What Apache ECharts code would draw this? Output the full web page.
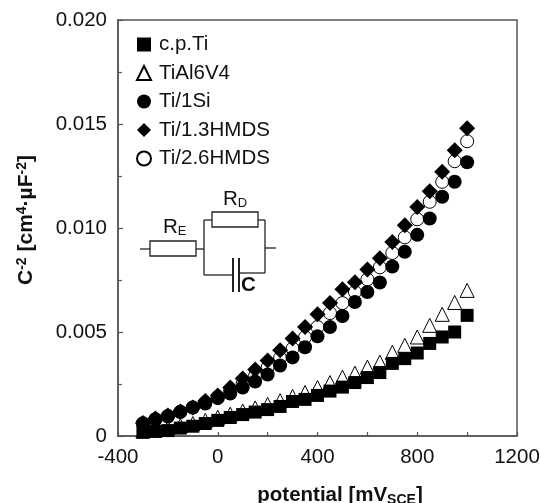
<!DOCTYPE html>
<html>
<head>
	<meta charset="utf-8">
	<title></title>
	<script src="https://cdn.jsdelivr.net/npm/echarts@6/dist/echarts.min.js"></script>
	<style>
		html,body{margin:0;padding:0;background:#fff;}
		#chart{width:541px;height:503px;}
	</style>
</head>
<body>
	<div id="chart"></div>
<script type="text/javascript">
	const potential=[-300,-250,-200,-150,-100,-50,0,50,100,150,200,250,300,350,400,450,500,550,600,650,700,750,800,850,900,950,1000];
	const cpTi=[.00018,.00022,.00026,.00038,.00047,.0006,.00075,.00089,.00103,.00115,.00127,.00142,.00166,.00176,.00195,.00216,.00235,.00257,.00281,.00305,.00349,.00372,.00399,.00445,.00476,.005,.0058];
	const tiAl=[.00024,.0003,.0004,.0005,.0006,.00075,.0009,.00105,.0012,.00135,.00152,.0017,.0019,.00209,.00233,.00257,.00283,.00302,.00331,.00355,.00402,.00436,.00476,.00532,.00585,.00642,.007];
	const ti1Si=[.0006,.00079,.00094,.00115,.00137,.00156,.00182,.00204,.00233,.00262,.00296,.00339,.00378,.00427,.00479,.00524,.00577,.00644,.00692,.00738,.00815,.00886,.00967,.01046,.0115,.01222,.01316];
	const ti13=[.00062,.00084,.00099,.00118,.00137,.00168,.00195,.00233,.00277,.0032,.00363,.00412,.00469,.00524,.00585,.00639,.00705,.00739,.00801,.00854,.00933,.01013,.01101,.01177,.0127,.01374,.0148];
	const ti26=[.00061,.00081,.00097,.00117,.00137,.00162,.00188,.0022,.00252,.0029,.0033,.00375,.0042,.00475,.00524,.00591,.00639,.00692,.00753,.00811,.0088,.00955,.01042,.01126,.01222,.01321,.01417];
	const legendNames=['c.p.Ti','TiAl6V4','Ti/1Si','Ti/1.3HMDS','Ti/2.6HMDS'];

	const font='"Liberation Sans", Arial, sans-serif';
	const frame='#555';

	function pairs(values){
		return potential.map((x,i)=>[x,values[i]]);
	}
	function filled(name,values,symbol,size){
		return {
			name:name,type:'scatter',symbol:symbol,symbolSize:size,
			data:pairs(values),
			itemStyle:{color:'#000',opacity:1}
		};
	}
	function hollow(name,values,symbol,size){
		return {
			name:name,type:'scatter',symbol:symbol,symbolSize:size,
			data:pairs(values),
			itemStyle:{color:'#fff',borderColor:'#000',borderWidth:1,opacity:1}
		};
	}
	function wire(x1,y1,x2,y2,w){
		return {type:'line',shape:{x1:x1,y1:y1,x2:x2,y2:y2},style:{stroke:'#222',lineWidth:w||1.3}};
	}
	function box(x,y,w,h){
		return {type:'rect',shape:{x:x,y:y,width:w,height:h},style:{fill:'#fff',stroke:'#222',lineWidth:1.3}};
	}
	function label(x,y,main,sub){
		return {type:'text',x:x,y:y,style:{
			text:'{m|'+main+'}{s|'+sub+'}',
			rich:{
				m:{fontFamily:font,fontSize:20.5,fill:'#111',color:'#111'},
				s:{fontFamily:font,fontSize:13,fill:'#111',color:'#111',padding:[9,0,0,0]}
			}
		}};
	}

	var myChart = echarts.init(document.getElementById('chart'),null,{renderer:'canvas'});
	var option = {
		animation:false,
		backgroundColor:'#fff',
		grid:{left:118,top:20,width:399,height:416,outerBoundsMode:'none',show:true,borderColor:frame,borderWidth:1.5,backgroundColor:'transparent'},
		legend:{
			orient:'vertical',left:131,top:29,
			itemWidth:14,itemHeight:14,itemGap:7.5,
			data:legendNames,
			textStyle:{fontFamily:font,fontSize:20.5,color:'#111',padding:[0,0,0,3]}
		},
		xAxis:{
			type:'value',min:-400,max:1200,interval:400,
			axisLine:{show:true,onZero:false,lineStyle:{color:frame,width:1.5}},
			axisTick:{show:true,inside:true,length:4,lineStyle:{color:frame,width:1.2}},
			minorTick:{show:true,splitNumber:2,length:4,lineStyle:{color:frame,width:1.2}},
			splitLine:{show:false},
			axisLabel:{
				fontFamily:font,fontSize:20.5,color:'#111',margin:11,showMinLabel:true,showMaxLabel:true,hideOverlap:false,
				formatter:function(v){return String(v);}
			},
			name:'potential [mV{s|SCE}]',
			nameLocation:'middle',nameGap:48,
			nameTextStyle:{
				fontFamily:font,fontSize:20.5,fontWeight:'bold',color:'#111',padding:[0,0,0,45],
				rich:{s:{fontFamily:font,fontSize:14,fontWeight:'bold',color:'#111',padding:[9,0,0,0]}}
			}
		},
		yAxis:{
			type:'value',min:0,max:0.02,interval:0.005,
			axisLine:{show:true,onZero:false,lineStyle:{color:frame,width:1.5}},
			axisTick:{show:true,inside:true,length:5,lineStyle:{color:frame,width:1.2}},
			minorTick:{show:true,splitNumber:2,length:4,lineStyle:{color:frame,width:1.2}},
			splitLine:{show:false},
			axisLabel:{
				fontFamily:font,fontSize:20.5,color:'#111',margin:11,
				formatter:function(v){return v===0?'0':v.toFixed(3);}
			},
			name:'C{u|-2} [cm{u|4}·µF{u|-2}]',
			nameLocation:'middle',nameGap:81,
			nameTextStyle:{
				fontFamily:font,fontSize:21,fontWeight:'bold',color:'#111',padding:[0,0,0,16],
				rich:{u:{fontFamily:font,fontSize:14,fontWeight:'bold',color:'#111',padding:[0,0,8,0]}}
			}
		},
		series:[
			hollow('TiAl6V4',tiAl,'triangle',14),
			filled('c.p.Ti',cpTi,'rect',13),
			hollow('Ti/2.6HMDS',ti26,'circle',13),
			filled('Ti/1Si',ti1Si,'circle',14),
			filled('Ti/1.3HMDS',ti13,'diamond',16)
		],
		graphic:[
			wire(140,249,150,249),
			box(150,241,46,15),
			wire(196,249,204,249),
			wire(204,220,204,275),
			wire(204,220,212,220),
			box(212,212,46,15),
			wire(258,220,265,220),
			wire(265,220,265,273),
			wire(265,248,276,248),
			wire(204,275,233,275),
			wire(233,258,233,292,2),
			wire(239,258,239,292,2),
			wire(239,273,265,273),
			label(163,216,'R','E'),
			label(223,188,'R','D'),
			{type:'text',x:241,y:275,style:{text:'C',fontFamily:font,fontSize:20.5,fontWeight:'bold',fill:'#111'}}
		]
	};
	myChart.setOption(option);
</script>
</body>
</html>
